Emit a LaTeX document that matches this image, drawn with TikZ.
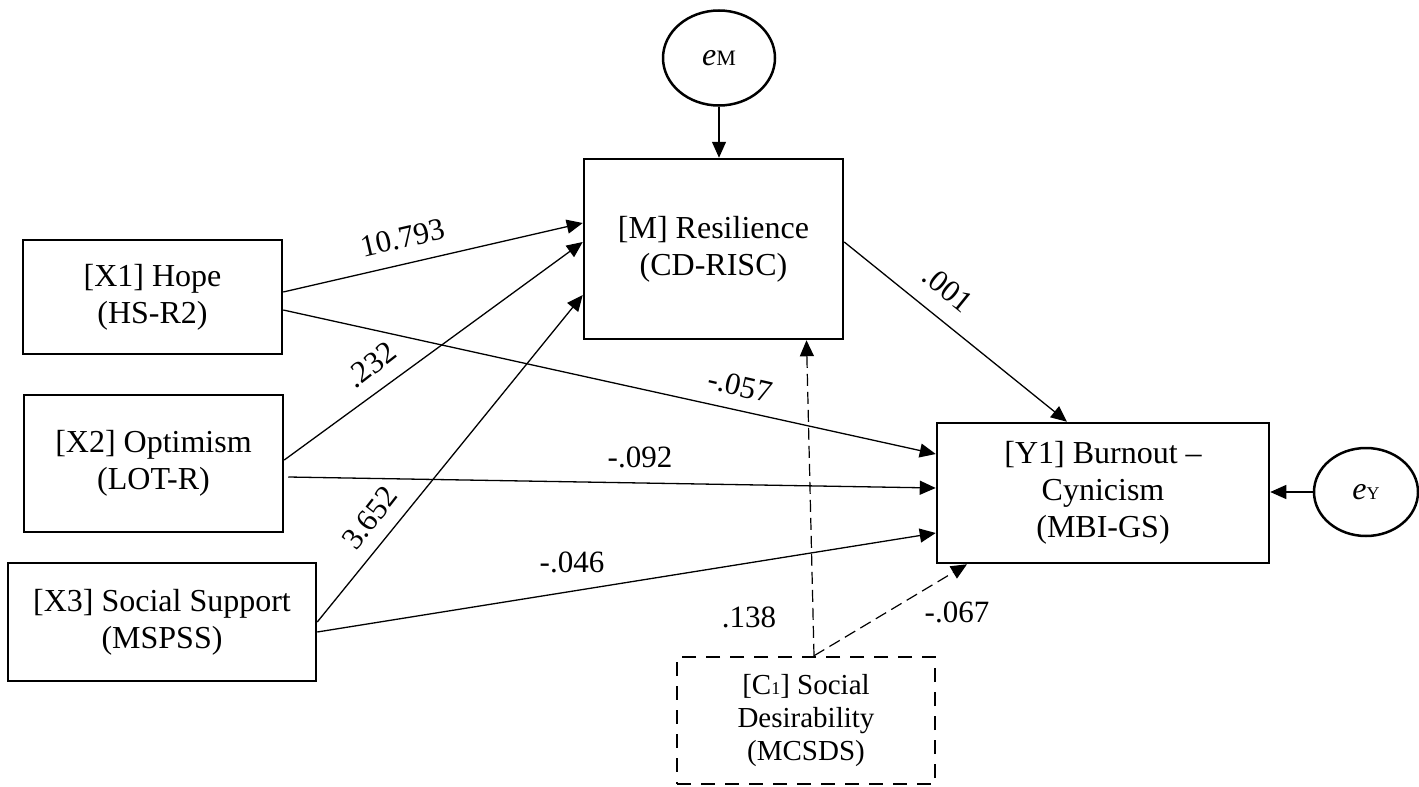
\documentclass[tikz,border=0pt]{standalone}
\usepackage{fontspec}
\setmainfont{Liberation Serif}
\usetikzlibrary{arrows.meta,shapes.geometric}

\tikzset{
  varbox/.style={draw, line width=2.5pt, align=center, inner sep=0pt, font=\fontsize{32}{37}\selectfont},
  covbox/.style={draw, line width=2.5pt, dash pattern=on 14pt off 10pt, align=center, inner sep=0pt, font=\fontsize{29}{33}\selectfont},
  errnode/.style={draw, ellipse, line width=2.5pt, inner sep=0pt, font=\fontsize{32}{37}\selectfont},
  coef/.style={inner sep=0pt, font=\fontsize{31}{36}\selectfont},
  path/.style={line width=1.3pt, -{Triangle[length=16pt, width=14pt]}},
  covpath/.style={line width=1.2pt, dash pattern=on 12pt off 6pt, -{Triangle[length=16pt, width=14pt]}}
}

\begin{document}
\begin{tikzpicture}[x=1pt, y=-1pt]
    \useasboundingbox (0,0) rectangle (1419,787);

    \node [errnode, minimum width=112pt, minimum height=95pt] (eM) at (719, 58) {\textit{e}{\fontsize{22}{22}\selectfont M}};
    \node [varbox, minimum width=259pt, minimum height=180pt] (M) at (713.5, 249) {[M] Resilience\\(CD-RISC)};
    \node [varbox, minimum width=259pt, minimum height=114pt] (X1) at (152.5, 297) {[X1] Hope\\(HS-R2)};
    \node [varbox, minimum width=259pt, minimum height=137pt] (X2) at (153.5, 463.5) {[X2] Optimism\\(LOT-R)};
    \node [varbox, minimum width=308pt, minimum height=118pt] (X3) at (162, 622) {[X3] Social Support\\(MSPSS)};
    \node [varbox, minimum width=332pt, minimum height=140pt] (Y1) at (1103, 493) {[Y1] Burnout --\\Cynicism\\(MBI-GS)};
    \node [errnode, minimum width=104pt, minimum height=88pt] (eY) at (1366, 492) {\textit{e}{\fontsize{18}{18}\selectfont Y}};
    \node [covbox, minimum width=258pt, minimum height=127pt] (C1) at (806, 720.5) {[C{\fontsize{18}{18}\selectfont 1}] Social\\Desirability\\(MCSDS)};

    \draw [path] (eM.south) -- (eM.south |- M.north);
    \draw [path] (eY.west) -- (Y1.east |- eY.west);

    \draw [path] ([yshift=5pt]X1.east) -- ([yshift=26pt]M.west);
    \draw [path] ([yshift=3.5pt]X2.east) -- ([yshift=7pt]M.west);
    \draw [path] (X3.east) -- ([yshift=-46pt]M.west);

    \draw [path] ([yshift=-13pt]X1.east) -- ([yshift=39pt]Y1.west);
    \draw [path] ([xshift=4pt, yshift=-13.5pt]X2.east) -- ([yshift=5pt]Y1.west);
    \draw [path] ([yshift=-10pt]X3.east) -- ([yshift=-40pt]Y1.west);

    \draw [path] ([yshift=7pt]M.east) -- ([xshift=-36pt]Y1.north);

    \draw [covpath] ([xshift=8pt]C1.north) -- ([xshift=93pt]M.south);
    \draw [covpath] ([xshift=8pt]C1.north) -- ([xshift=-136pt]Y1.south);

    \node [coef, rotate=13] (b1) at (403, 238) {10.793};
    \node [coef, rotate=38] (b2) at (371, 365) {.232};
    \node [coef, rotate=52] (b3) at (370, 518) {3.652};
    \node [coef, rotate=-13] (c1) at (740, 386) {-.057};
    \node [coef] (c2) at (640, 457) {-.092};
    \node [coef] (c3) at (572, 562) {-.046};
    \node [coef, rotate=-39] (d1) at (948, 289) {.001};
    \node [coef] (g1) at (749, 617) {.138};
    \node [coef] (g2) at (957, 612) {-.067};
\end{tikzpicture}
\end{document}
